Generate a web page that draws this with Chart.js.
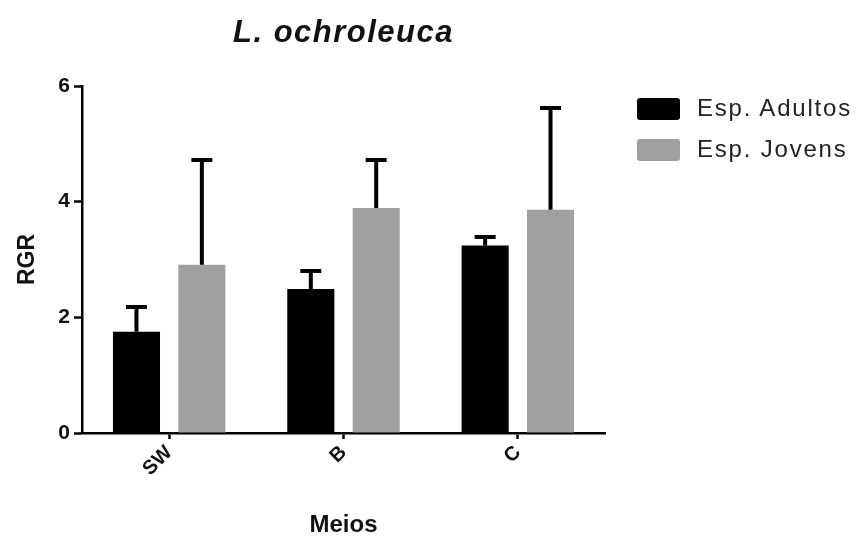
<!DOCTYPE html>
<html lang="pt">
  <head>
    <meta charset="UTF-8" />
    <title>L. ochroleuca</title>
    <script src="https://cdn.jsdelivr.net/npm/chart.js"></script>
    <style>
      body { margin: 0; background: #fff; }
      #wrap { position: relative; width: 858px; height: 541px; }
      .key { position: absolute; left: 637px; font-family: "Liberation Sans", Arial, sans-serif;
             font-size: 24px; color: #222; letter-spacing: 1.8px; }
      .key span.box { position: absolute; left: 0; top: 0; width: 43px; height: 22px; border-radius: 3px; }
      .key span.txt { position: absolute; left: 60px; top: -4px; white-space: nowrap; }
    </style>
  </head>
  <body>
    <div id="wrap">
      <canvas id="rgrChart" width="858" height="541"></canvas>
      <div class="key" style="top: 98px"><span class="box" style="background:#000"></span><span class="txt">Esp. Adultos</span></div>
      <div class="key" style="top: 139px"><span class="box" style="background:#a0a0a0"></span><span class="txt">Esp. Jovens</span></div>
    </div>

    <script>
      // data
      const meios = ["SW", "B", "C"];
      const adultos = [1.75, 2.49, 3.24];
      const adultosErr = [0.43, 0.31, 0.15];
      const jovens = [2.91, 3.89, 3.86];
      const jovensErr = [1.81, 0.83, 1.76];
      const yTicks = [0, 2, 4, 6];
      const chartTitle = "L. ochroleuca";

      const font = "'Liberation Sans', Arial, sans-serif";

      // upper error bars with a cap
      const errorBars = {
        id: "errorBars",
        afterDatasetsDraw(chart) {
          const ctx = chart.ctx;
          const y = chart.scales.y;
          chart.data.datasets.forEach((ds, d) => {
            const meta = chart.getDatasetMeta(d);
            meta.data.forEach((bar, i) => {
              const top = y.getPixelForValue(ds.data[i] + ds.err[i]);
              ctx.save();
              ctx.strokeStyle = "#000";
              ctx.lineWidth = 4;
              ctx.beginPath();
              ctx.moveTo(bar.x, bar.y);
              ctx.lineTo(bar.x, top);
              ctx.moveTo(bar.x - 10.5, top);
              ctx.lineTo(bar.x + 10.5, top);
              ctx.stroke();
              ctx.restore();
            });
          });
        },
      };

      // title centred over the plot area, not the whole canvas
      const plotTitle = {
        id: "plotTitle",
        afterDraw(chart) {
          const ctx = chart.ctx;
          const a = chart.chartArea;
          ctx.save();
          ctx.font = "italic bold 31px " + font;
          ctx.letterSpacing = "1.5px";
          ctx.fillStyle = "#111";
          ctx.textAlign = "center";
          ctx.textBaseline = "middle";
          ctx.fillText(chartTitle, (a.left + a.right) / 2, 33);
          ctx.restore();
        },
      };

      new Chart(document.getElementById("rgrChart"), {
        type: "bar",
        data: {
          labels: meios,
          datasets: [
            { label: "Esp. Adultos", data: adultos, err: adultosErr, backgroundColor: "#000" },
            { label: "Esp. Jovens", data: jovens, err: jovensErr, backgroundColor: "#a0a0a0" },
          ],
        },
        options: {
          responsive: false,
          animation: false,
          categoryPercentage: 0.75,
          barPercentage: 0.72,
          layout: { padding: { left: 14, right: 253, top: 86, bottom: 1 } },
          plugins: {
            legend: { display: false },
            tooltip: { enabled: false },
            title: { display: false },
          },
          scales: {
            x: {
              afterFit(s) { s.height = 107; },
              grid: { offset: false, drawOnChartArea: false, tickLength: 6, tickWidth: 2.5, tickColor: "#000" },
              border: { color: "#000", width: 2.5 },
              ticks: { color: "#111", font: { family: font, size: 20, weight: "bold" }, minRotation: 45, maxRotation: 45, padding: 2 },
              title: { display: true, text: "Meios", color: "#111", font: { family: font, size: 24, weight: "bold" }, padding: 0 },
            },
            y: {
              min: 0,
              max: 6,
              afterFit(s) { s.width = 68; },
              afterBuildTicks(s) { s.ticks = yTicks.map((v) => ({ value: v })); },
              grid: { drawOnChartArea: false, tickLength: 8, tickWidth: 2.5, tickColor: "#000" },
              border: { color: "#000", width: 2.5 },
              ticks: { color: "#111", font: { family: font, size: 21, weight: "bold" }, padding: 4 },
              title: { display: true, text: "RGR", color: "#111", font: { family: font, size: 23, weight: "bold" }, padding: 0 },
            },
          },
        },
        plugins: [errorBars, plotTitle],
      });
    </script>
  </body>
</html>
